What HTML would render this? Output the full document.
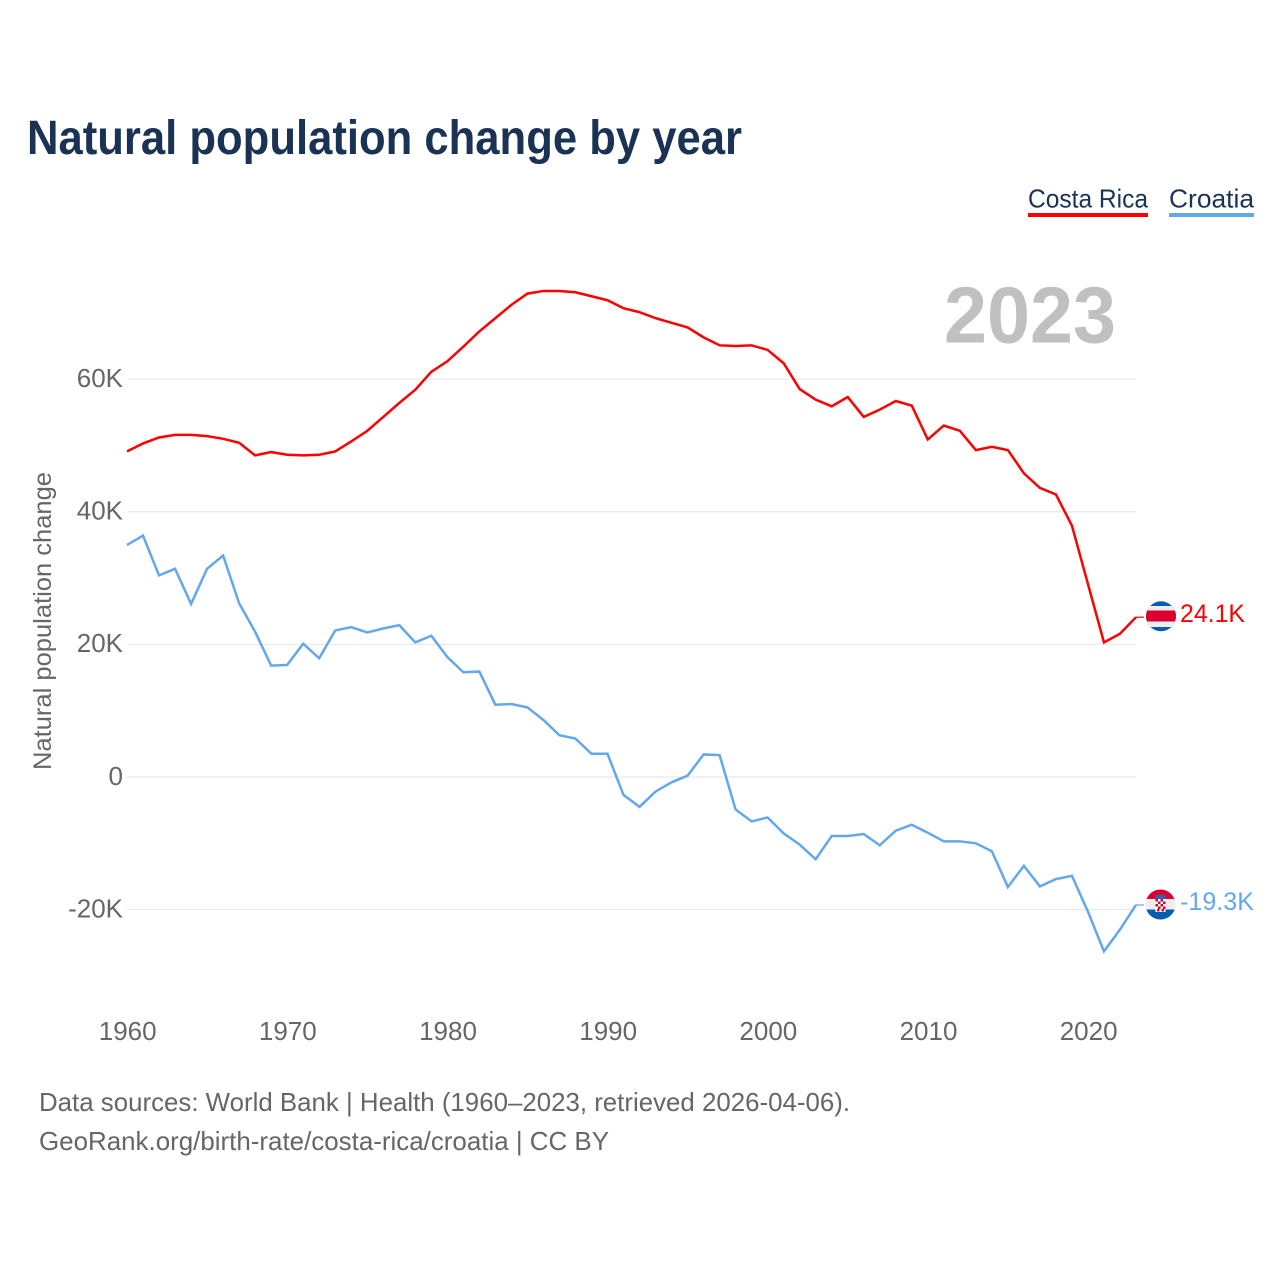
<!DOCTYPE html>
<html lang="en">
<head>
<meta charset="utf-8">
<title>Natural population change by year</title>
<style>
html,body{margin:0;padding:0;background:#fff;}
svg{display:block;font-family:"Liberation Sans",sans-serif;}
</style>
</head>
<body>
<svg id="chart" xmlns="http://www.w3.org/2000/svg" width="1280" height="1280" viewBox="0 0 1280 1280">
  <rect x="0" y="0" width="1280" height="1280" fill="#ffffff"/>
  <text x="27" y="154" font-size="48" font-weight="700" fill="#1a3354" textLength="715" lengthAdjust="spacingAndGlyphs">Natural population change by year</text>

  <g>
    <text x="1028" y="207.5" font-size="26" fill="#1a3354" textLength="120" lengthAdjust="spacingAndGlyphs">Costa Rica</text>
    <rect x="1028" y="213" width="120" height="4" fill="#ff0000"/>
  </g>
  <g>
    <text x="1169" y="207.5" font-size="26" fill="#1a3354" textLength="85" lengthAdjust="spacingAndGlyphs">Croatia</text>
    <rect x="1169" y="213" width="85" height="4" fill="#63a8eb"/>
  </g>

  <text x="944" y="342.5" font-size="80" font-weight="700" fill="#c0c0c0" textLength="172" lengthAdjust="spacingAndGlyphs">2023</text>

  <g id="grid"></g>
  <g id="yticks"></g>
  <g id="xticks"></g>

  <text transform="translate(51,621) rotate(-90)" text-anchor="middle" font-size="25" fill="#666666" textLength="298" lengthAdjust="spacingAndGlyphs">Natural population change</text>

  <g id="series"></g>

  <defs>
    <clipPath id="clip-cr"><circle cx="1161" cy="616.3" r="15"/></clipPath>
    <clipPath id="clip-hr"><circle cx="1160.5" cy="904.5" r="15"/></clipPath>
  </defs>

  <g clip-path="url(#clip-cr)">
    <rect x="1146" y="601" width="30" height="31" fill="#0a5cb0"/>
    <rect x="1146" y="606" width="30" height="21" fill="#eeeeee"/>
    <rect x="1146" y="610.5" width="30" height="11" fill="#d9002f"/>
  </g>

  <g clip-path="url(#clip-hr)">
    <rect x="1145" y="889" width="31" height="11" fill="#d9002f"/>
    <rect x="1145" y="899" width="31" height="11" fill="#eeeeee"/>
    <rect x="1145" y="909.5" width="31" height="11" fill="#0a5cb0"/>
    <rect x="1155.5" y="895" width="10" height="4" fill="#2a62b8"/>
    <rect x="1155.5" y="899" width="10" height="13" fill="#ffffff"/>
    <rect x="1155.5" y="899" width="2.5" height="2.5" fill="#d9002f"/>
    <rect x="1160.5" y="899" width="2.5" height="2.5" fill="#d9002f"/>
    <rect x="1158" y="901.5" width="2.5" height="2.5" fill="#d9002f"/>
    <rect x="1163" y="901.5" width="2.5" height="2.5" fill="#d9002f"/>
    <rect x="1155.5" y="904" width="2.5" height="2.5" fill="#d9002f"/>
    <rect x="1160.5" y="904" width="2.5" height="2.5" fill="#d9002f"/>
    <rect x="1158" y="906.5" width="2.5" height="2.5" fill="#d9002f"/>
    <rect x="1163" y="906.5" width="2.5" height="2.5" fill="#d9002f"/>
    <rect x="1157" y="909" width="2.5" height="2.5" fill="#d9002f"/>
    <rect x="1161.5" y="909" width="2.5" height="2.5" fill="#d9002f"/>
  </g>

  <text x="1180" y="622" font-size="25" fill="#ff0000" textLength="65" lengthAdjust="spacingAndGlyphs">24.1K</text>
  <text x="1180" y="910" font-size="25" fill="#63a8eb" textLength="74" lengthAdjust="spacingAndGlyphs">-19.3K</text>

  <text x="39" y="1111" font-size="26" fill="#666666" textLength="811" lengthAdjust="spacingAndGlyphs">Data sources: World Bank | Health (1960–2023, retrieved 2026-04-06).</text>
  <text x="39" y="1150" font-size="26" fill="#666666" textLength="570" lengthAdjust="spacingAndGlyphs">GeoRank.org/birth-rate/costa-rica/croatia | CC BY</text>
</svg>
<script>
const firstYear = 1960;
const costaRicaValues = [
  49.1,50.3,51.2,51.6,51.6,51.4,51.0,50.4,48.5,49.0,
  48.6,48.5,48.6,49.1,50.6,52.2,54.3,56.4,58.4,61.1,
  62.7,64.9,67.2,69.2,71.2,72.9,73.3,73.3,73.1,72.5,
  71.9,70.7,70.1,69.2,68.5,67.8,66.3,65.1,65.0,65.1,
  64.4,62.4,58.5,56.9,55.9,57.3,54.3,55.4,56.7,56.0,
  50.9,53.0,52.2,49.3,49.8,49.3,45.8,43.6,42.6,37.9,
  29.1,20.3,21.6,24.1
];
const croatiaValues = [
  35.0,36.4,30.4,31.4,26.1,31.4,33.4,26.2,21.9,16.8,
  16.9,20.1,17.9,22.1,22.6,21.8,22.4,22.9,20.3,21.3,
  18.1,15.8,15.9,10.9,11.0,10.5,8.6,6.3,5.8,3.5,
  3.5,-2.7,-4.5,-2.2,-0.8,0.2,3.4,3.3,-4.9,-6.7,
  -6.1,-8.5,-10.2,-12.4,-8.9,-8.9,-8.6,-10.3,-8.1,-7.2,
  -8.4,-9.7,-9.7,-10.0,-11.2,-16.6,-13.4,-16.5,-15.4,-14.9,
  -20.3,-26.3,-23.0,-19.3
];
const yTickValues = [60, 40, 20, 0, -20];
const yTickLabels = ["60K", "40K", "20K", "0", "-20K"];
const xTickYears = [1960, 1970, 1980, 1990, 2000, 2010, 2020];

const NS = "http://www.w3.org/2000/svg";
function xScale(year) { return 127 + (year - 1960) * (1136 - 127) / 63; }
function yScale(value) { return 777 - value * 6.631; }

const grid = document.getElementById("grid");
const yticks = document.getElementById("yticks");
const xticks = document.getElementById("xticks");
const series = document.getElementById("series");

yTickValues.forEach(function (v, i) {
  const line = document.createElementNS(NS, "line");
  
  
  line.setAttribute("x1", 127);
  line.setAttribute("x2", 1136);
  line.setAttribute("y1", yScale(v));
  line.setAttribute("y2", yScale(v));
  line.setAttribute("stroke", "#e6e6e6");
  line.setAttribute("stroke-width", "1");
  grid.appendChild(line);

  const t = document.createElementNS(NS, "text");
  
  
  t.setAttribute("x", 123);
  t.setAttribute("y", yScale(v) + 7.8);
  t.setAttribute("text-anchor", "end");
  t.setAttribute("font-size", "26");
  t.setAttribute("fill", "#666666");
  t.textContent = yTickLabels[i];
  yticks.appendChild(t);
});

xTickYears.forEach(function (year) {
  const t = document.createElementNS(NS, "text");
  
  
  t.setAttribute("x", xScale(year) + 0.7);
  t.setAttribute("y", 1040);
  t.setAttribute("text-anchor", "middle");
  t.setAttribute("font-size", "26");
  t.setAttribute("fill", "#666666");
  t.textContent = String(year);
  xticks.appendChild(t);
});

function linePoints(values) {
  const pts = values.map(function (v, i) {
    return xScale(firstYear + i).toFixed(2) + "," + yScale(v).toFixed(2);
  });
  return pts.join(" ");
}

function connectorPoints(values) {
  const last = values.length - 1;
  const x = xScale(firstYear + last);
  const y = yScale(values[last]);
  return x.toFixed(2) + "," + y.toFixed(2) + " " + (x + 8).toFixed(2) + "," + y.toFixed(2);
}

const redLine = document.createElementNS(NS, "polyline");


redLine.setAttribute("points", linePoints(costaRicaValues));
redLine.setAttribute("fill", "none");
redLine.setAttribute("stroke", "#ff0000");
redLine.setAttribute("stroke-width", "2.5");
redLine.setAttribute("stroke-linejoin", "miter");
series.appendChild(redLine);

const blueLine = document.createElementNS(NS, "polyline");


blueLine.setAttribute("points", linePoints(croatiaValues));
blueLine.setAttribute("fill", "none");
blueLine.setAttribute("stroke", "#63a8eb");
blueLine.setAttribute("stroke-width", "2.5");
blueLine.setAttribute("stroke-linejoin", "miter");
series.appendChild(blueLine);

const redConnector = document.createElementNS(NS, "polyline");


redConnector.setAttribute("points", connectorPoints(costaRicaValues));
redConnector.setAttribute("fill", "none");
redConnector.setAttribute("stroke", "#ff0000");
redConnector.setAttribute("stroke-width", "1.2");
series.appendChild(redConnector);

const blueConnector = document.createElementNS(NS, "polyline");


blueConnector.setAttribute("points", connectorPoints(croatiaValues));
blueConnector.setAttribute("fill", "none");
blueConnector.setAttribute("stroke", "#63a8eb");
blueConnector.setAttribute("stroke-width", "1.2");
series.appendChild(blueConnector);
</script>
</body>
</html>
